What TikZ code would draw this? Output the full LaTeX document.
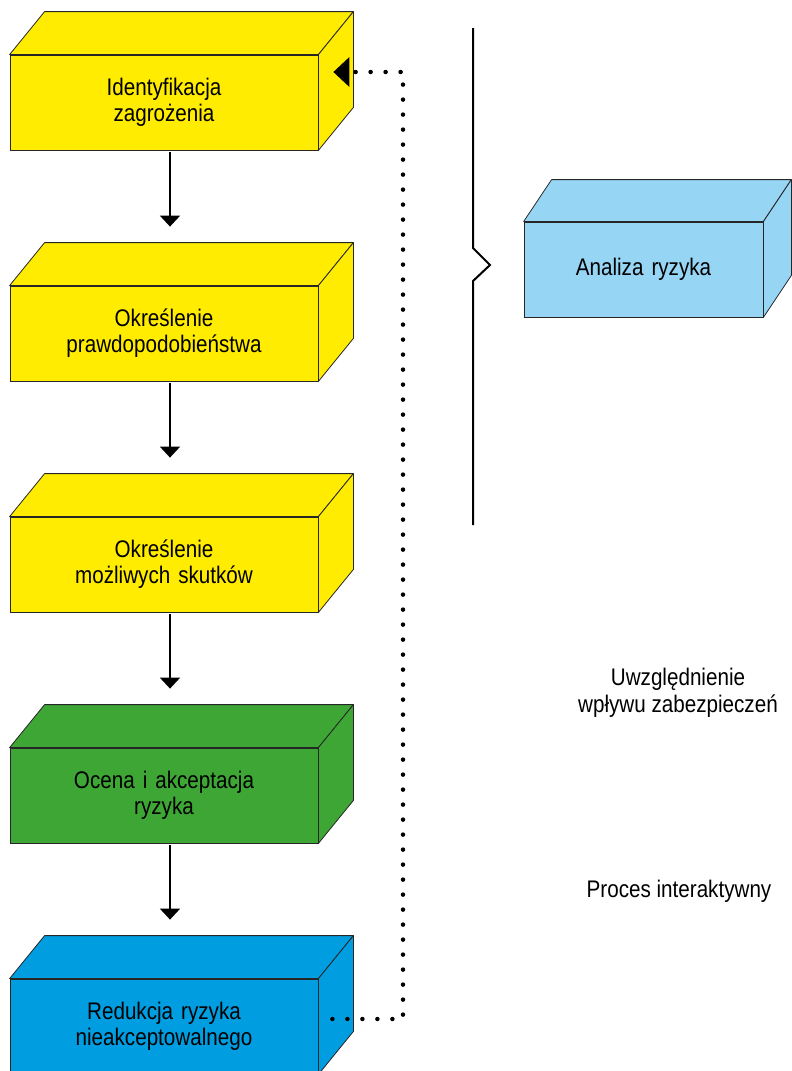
\documentclass[tikz,border=0pt]{standalone}
\usepackage{fontspec}
\setmainfont[FakeStretch=0.86]{Liberation Sans}
\usetikzlibrary{arrows.meta}
\definecolor{riskyellow}{RGB}{255,236,0}
\definecolor{riskgreen}{RGB}{62,166,53}
\definecolor{riskblue}{RGB}{0,158,224}
\definecolor{risklight}{RGB}{151,213,245}
\newcommand{\cubefaces}[3]{% node, fill, depth
	\draw[face, fill=#2] (#1.north west) -- ++(#3) -- ([shift={(#3)}]#1.north east) -- (#1.north east) -- cycle;
	\draw[face, fill=#2] (#1.north east) -- ++(#3) -- ([shift={(#3)}]#1.south east) -- (#1.south east) -- cycle;
}

\begin{document}
\begin{tikzpicture}[
		x=1pt, y=-1pt,
		face/.style={draw=black!85, line width=0.8pt, line join=round},
		cube/.style={draw=black!85, line width=0.8pt, rectangle, minimum width=308pt, minimum height=95pt, text width=300pt, inner sep=0pt, align=center, font=\fontsize{24}{26}\selectfont},
		label/.style={align=center, font=\fontsize{24}{27}\selectfont},
		flow/.style={line width=2pt, -{Triangle[width=20pt,length=11pt]}, shorten <=2pt, shorten >=59pt},
		feedback/.style={line width=4.5pt, line cap=round, dash pattern=on 0pt off 15pt, -{Triangle[width=30pt,length=16pt,line width=0pt]}},
	]
	\useasboundingbox (0,0) rectangle (792,1071);

	\node[cube, fill=riskyellow] (threat_id) at (164,102.5) {Identyfikacja\\zagrożenia};
	\node[cube, fill=riskyellow] (likelihood) at (164,333.5) {Określenie\\prawdopodobieństwa};
	\node[cube, fill=riskyellow] (impact) at (164,564.5) {Określenie\\możliwych skutków};
	\node[cube, fill=riskgreen] (evaluation) at (164,795.5) {Ocena i akceptacja\\ryzyka};
	\node[cube, fill=riskblue] (reduction) at (164,1026.5) {Redukcja ryzyka\\nieakceptowalnego};
	\node[cube, fill=risklight, minimum width=239pt, text width=230pt] (analysis) at (643.5,269.5) {Analiza ryzyka};

	\cubefaces{threat_id}{riskyellow}{35,-43}
	\cubefaces{likelihood}{riskyellow}{35,-43}
	\cubefaces{impact}{riskyellow}{35,-43}
	\cubefaces{evaluation}{riskgreen}{35,-43}
	\cubefaces{reduction}{riskblue}{35,-43}
	\cubefaces{analysis}{risklight}{28,-42}

	\node[label] (safeguards) at (678,693) {Uwzględnienie\\wpływu zabezpieczeń};
	\node[label] (iterative) at (679,891) {Proces interaktywny};

	\draw[flow] ([xshift=6pt]threat_id.south) -- ([xshift=6pt]likelihood.north);
	\draw[flow] ([xshift=6pt]likelihood.south) -- ([xshift=6pt]impact.north);
	\draw[flow] ([xshift=6pt]impact.south) -- ([xshift=6pt]evaluation.north);
	\draw[flow] ([xshift=6pt]evaluation.south) -- ([xshift=6pt]reduction.north);

	% feedback loop back to the first stage
	\coordinate (loop_from) at ([shift={(14,-7.5)}]reduction.east);
	\coordinate (loop_to) at ([shift={(15,-30.5)}]threat_id.east);
	\coordinate (loop_side) at (403,0);
	\draw[feedback] (loop_from) -- (loop_from -| loop_side) -- (loop_side |- loop_to) -- (loop_to);

	% brace of the analysis stages
	\draw[line width=2pt] (473,28) -- (473,248) -- (490,265) -- (473,281) -- (473,525);
\end{tikzpicture}
\end{document}
